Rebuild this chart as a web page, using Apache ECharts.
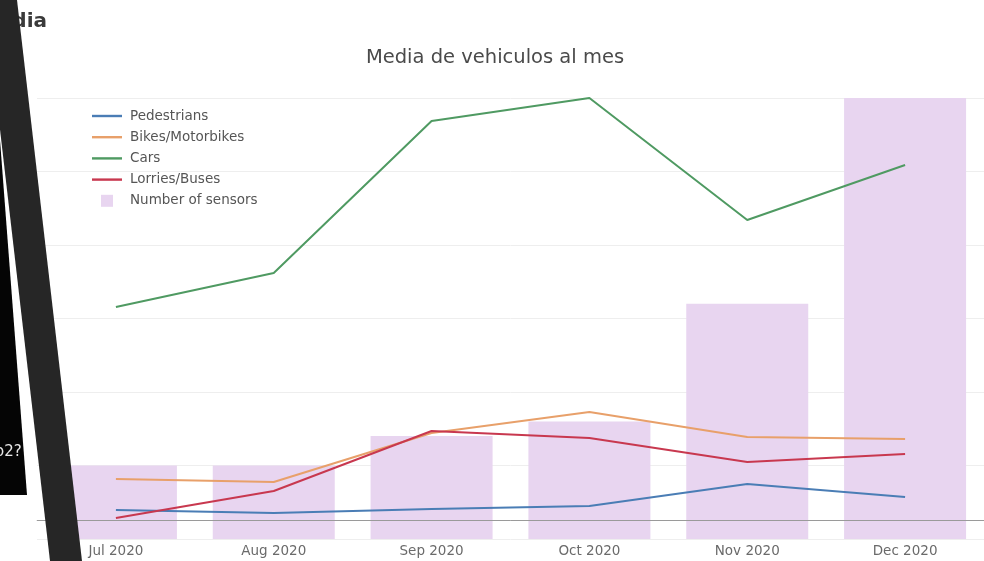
<!DOCTYPE html>
<html>
<head>
<meta charset="utf-8">
<script src="https://cdn.jsdelivr.net/npm/echarts@6/dist/echarts.min.js"></script>
<style>html,body{margin:0;padding:0;background:#fff}#c{width:984px;height:561px}</style>
</head>
<body>
<div id="c"></div>
<script>
const categories = ['Jul 2020', 'Aug 2020', 'Sep 2020', 'Oct 2020', 'Nov 2020', 'Dec 2020'];
const pedestrians = [109, 77, 119, 151, 386, 247];
const bikes = [439, 407, 929, 1153, 887, 865];
const cars = [2272, 2635, 4255, 4500, 3200, 3786];
const lorries = [23, 311, 951, 876, 620, 706];
const sensors = [5, 5, 7, 8, 16, 30];

const chart = echarts.init(document.getElementById('c'));
const font = 'DejaVu Sans';
const lineIcon = 'path://M0,0h30v2.4h-30z';
function lineSeries(name, data, color, extra) {
  return Object.assign({
    name: name, type: 'line', data: data, yAxisIndex: 0,
    symbol: 'none', clip: false, z: 5,
    lineStyle: { color: color, width: 2 }, itemStyle: { color: color }
  }, extra || {});
}
chart.setOption({
  animation: false,
  textStyle: { fontFamily: font },
  title: {
    text: 'Media de vehiculos al mes', left: 490, textAlign: 'center', top: 43,
    textStyle: { fontSize: 19.5, fontWeight: 'normal', color: '#4a4a4a', fontFamily: font }
  },
  legend: {
    orient: 'vertical', left: 87, top: 104, itemWidth: 30, itemHeight: 12, itemGap: 7.2,
    textStyle: { fontSize: 13.5, lineHeight: 14, color: '#555', fontFamily: font, padding: [0, 0, 0, 3] },
    data: [
      { name: 'Pedestrians', icon: lineIcon },
      { name: 'Bikes/Motorbikes', icon: lineIcon },
      { name: 'Cars', icon: lineIcon },
      { name: 'Lorries/Buses', icon: lineIcon },
      { name: 'Number of sensors', icon: 'path://M0,0h10v10h-10z' }]
  },
  grid: { left: 37, right: 0, top: 98, bottom: 22 },
  xAxis: {
    type: 'category', data: categories, boundaryGap: true,
    axisLine: { lineStyle: { color: '#c8c8c8' } },
    axisTick: { show: false },
    axisLabel: { color: '#6a6a6a', fontSize: 13.5, margin: 5, fontFamily: font }
  },
  yAxis: [
    { type: 'value', min: -200, max: 4500, axisLabel: { show: false },
      splitLine: { show: false }, axisLine: { show: false }, axisTick: { show: false } },
    { type: 'value', min: 0, max: 30, interval: 5, position: 'right', axisLabel: { show: false },
      splitLine: { lineStyle: { color: '#eeeeee' } }, axisLine: { show: false }, axisTick: { show: false } }
  ],
  series: [
    { name: 'Number of sensors', type: 'bar', yAxisIndex: 1, data: sensors, barWidth: 122,
      itemStyle: { color: '#e8d5f0' }, z: 1 },
    lineSeries('Pedestrians', pedestrians, '#4a7db5', {
      markLine: { silent: true, symbol: 'none', label: { show: false },
        lineStyle: { color: '#9a9a9a', width: 1, type: 'solid' }, data: [{ yAxis: 0 }] }
    }),
    lineSeries('Bikes/Motorbikes', bikes, '#e8a06a'),
    lineSeries('Cars', cars, '#4f9a62'),
    lineSeries('Lorries/Buses', lorries, '#c8384f')
  ],
  graphic: [
    { type: 'text', z: 50, style: { x: 47, y: 22, text: 'Media', textAlign: 'right', textVerticalAlign: 'middle',
      font: 'bold 20px "DejaVu Sans"', fill: '#3a3a3a' } },
    { type: 'polygon', z: 60, shape: { points: [[0, 140], [27, 495], [0, 495]] }, style: { fill: '#050505' } },
    { type: 'text', z: 61, style: { x: -5, y: 452, text: 'o2?', textVerticalAlign: 'middle',
      font: '15px "DejaVu Sans"', fill: '#e8e8e8' } },
    { type: 'polygon', z: 62, shape: { points: [[-15, 0], [17, 0], [82, 561], [50, 561]] }, style: { fill: '#262626' } }
  ]
});
</script>
</body>
</html>
